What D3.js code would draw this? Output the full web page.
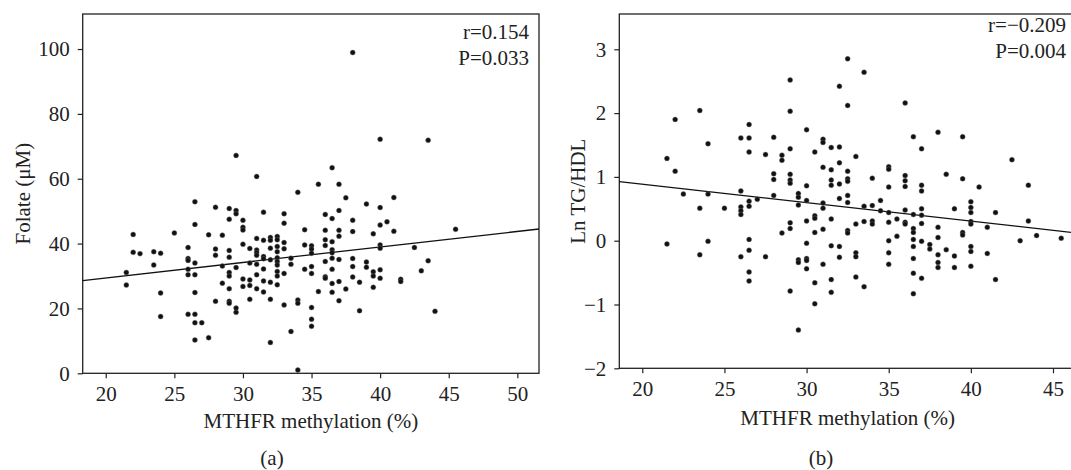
<!DOCTYPE html>
<html>
<head>
<meta charset="utf-8">
<script src="https://cdnjs.cloudflare.com/ajax/libs/d3/7.8.5/d3.min.js"></script>
<style>
    body { margin: 0; background: #fff; }
    svg text { font-family: "Liberation Serif", "DejaVu Serif", serif; fill: #222; }
</style>
</head>
<body>
<svg id="chart" width="1071" height="470"></svg>
<script>
// ---- panel (a): folate vs MTHFR methylation, grouped by methylation level ----
var methylA = [21.5, 22, 22.5, 23.5, 24, 25, 26, 26.5, 27, 27.5, 28, 28.5, 29, 29.5, 30, 30.5,
    31, 31.5, 32, 32.5, 33, 33.5, 34, 34.5, 35, 35.5, 36, 36.5, 37, 37.5, 38, 38.5, 39, 39.5,
    40, 40.5, 41, 41.5, 42.5, 43, 43.5, 44, 45.5];
var folateA = [
    [31.1, 27.2], [42.8, 37.3], [36.9], [37.5, 33.4], [37.0, 24.8, 17.5], [43.3],
    [38.8, 35.4, 34.8, 32.1, 30.4, 18.2],
    [52.9, 45.9, 34.0, 30.4, 24.9, 18.2, 15.6, 10.3],
    [15.6], [42.7, 11.0], [51.2, 38.3, 36.4, 22.2], [42.6, 33.1, 27.8],
    [50.8, 47.5, 37.9, 35.8, 31.1, 30.0, 26.1, 22.2, 21.6],
    [67.2, 50.2, 49.2, 32.6, 20.1, 18.8],
    [47.2, 45.0, 44.2, 39.8, 29.1, 26.8],
    [38.5, 34.0, 28.8, 27.1, 22.8],
    [60.7, 41.6, 38.0, 37.2, 36.4, 33.6, 30.4, 26.1],
    [49.7, 41.0, 36.0, 35.3, 32.2, 28.5, 25.1],
    [41.9, 41.0, 38.6, 35.0, 28.1, 22.8, 9.5],
    [42.2, 41.2, 39.1, 37.5, 35.6, 34.5, 33.4, 31.4, 30.0, 27.3],
    [49.2, 46.3, 40.3, 38.4, 30.8, 21.1],
    [35.5, 33.6, 12.9], [55.8, 22.6, 21.6, 1.0], [44.3, 39.6, 32.1],
    [39.3, 38.3, 37.0, 32.9, 30.8, 20.3, 16.7, 14.5],
    [58.3, 25.2],
    [49.0, 44.1, 41.2, 39.4, 34.5, 29.8, 29.3],
    [63.4, 47.7, 40.6, 38.1, 37.2, 35.5, 32.1, 27.7, 25.0],
    [58.3, 50.2, 44.1, 42.3, 35.1, 28.3, 22.4],
    [54.1, 26.0], [98.9, 47.2, 43.7, 35.4, 32.9, 29.7], [28.1, 19.3], [52.2, 34.3, 32.7],
    [43.0, 31.3, 30.0, 26.5],
    [72.2, 51.1, 45.7, 39.6, 38.6, 31.9, 29.3],
    [46.7], [54.2, 43.8], [29.0, 28.3], [38.8], [31.6], [71.9, 34.7], [19.1], [44.4]
];
var fitA = [19.84, 0.478];          // intercept, slope
var statsA = ["r=0.154", "P=0.033"];
var xTicksA = [20, 25, 30, 35, 40, 45, 50];
var yTicksA = [0, 20, 40, 60, 80, 100];

// ---- panel (b): Ln TG/HDL vs MTHFR methylation ----
var methylB = [21.5, 22, 22.5, 23.5, 24, 25, 26, 26.5, 27, 27.5, 28, 28.5, 29, 29.5, 30, 30.5,
    31, 31.5, 32, 32.5, 33, 33.5, 34, 34.5, 35, 35.5, 36, 36.5, 37, 37.5, 38, 38.5, 39, 39.5,
    40, 40.5, 41, 41.5, 42.5, 43, 43.5, 44, 45.5];
var lnTgHdlB = [
    [1.29, -0.05], [1.90, 1.09], [0.73], [2.04, 0.51, -0.22], [1.52, 0.73, -0.01], [0.51],
    [1.61, 0.78, 0.53, 0.47, 0.41, -0.25],
    [1.82, 1.61, 1.39, 0.62, 0.54, 0.02, -0.15, -0.49, -0.63],
    [0.65], [1.35, -0.25], [1.62, 1.05, 0.96, 0.71], [1.34, 1.26, 0.12],
    [2.52, 2.03, 1.44, 1.04, 0.95, 0.90, 0.28, 0.19, -0.79],
    [0.74, 0.68, 0.56, -0.30, -0.34, -1.40],
    [1.74, 0.86, 0.63, 0.31, -0.04, -0.28, -0.31, -0.44],
    [1.39, 0.39, 0.35, 0.13, -0.66, -0.99],
    [1.59, 1.54, 1.15, 0.59, 0.51, 0.18, -0.37],
    [1.46, 1.11, 0.95, 0.87, 0.34, -0.08, -0.61, -0.81],
    [2.42, 1.47, 1.22, 0.89, 0.66, -0.09, -0.26],
    [2.85, 2.12, 1.09, 0.97, 0.93, 0.71, 0.60, 0.16, 0.12],
    [1.32, 0.26, -0.19, -0.25, -0.57],
    [2.64, 0.54, 0.30, -0.72], [0.98, 0.55, 0.31, 0.26], [0.63, 0.47],
    [1.16, 1.12, 0.84, 0.44, 0.29, 0.00, -0.19, -0.37],
    [0.34, 0.07],
    [2.16, 1.02, 0.94, 0.85, 0.48, 0.29, 0.26],
    [1.63, 0.41, 0.19, 0.13, 0.02, -0.09, -0.28, -0.51, -0.83],
    [1.44, 0.87, 0.78, 0.50, 0.40, 0.27, -0.01, -0.59],
    [-0.06, -0.13], [1.70, 0.21, 0.05, -0.22, -0.34, -0.42], [1.04, -0.14], [0.50, -0.24, -0.42],
    [1.63, 0.97, 0.13, 0.09],
    [0.61, 0.52, 0.44, 0.30, 0.26, -0.09, -0.17, -0.40],
    [0.84], [0.21, -0.20], [0.44, -0.61], [1.27], [0.00], [0.87, 0.31], [0.08], [0.04]
];
var fitB = [1.463, -0.0289];
var statsB = ["r=\u22120.209", "P=0.004"];
var xTicksB = [20, 25, 30, 35, 40, 45];
var yTicksB = [-2, -1, 0, 1, 2, 3];

var fontSize = 21;
var svg = d3.select("#chart");

function flatten(xs, groups) {
    var pts = [];
    xs.forEach(function (x, i) {
        groups[i].forEach(function (y) { pts.push([x, y]); });
    });
    return pts;
}

function drawPanel(p) {
    var x = d3.scaleLinear().domain(p.xDomain).range([p.left, p.right]);
    var y = d3.scaleLinear().domain(p.yDomain).range([p.bottom, p.top]);
    var g = svg.append("g");

    // frame
    g.append("rect")
        .attr("x", p.left).attr("y", p.top)
        .attr("width", p.right - p.left).attr("height", p.bottom - p.top)
        .attr("fill", "none").attr("stroke", "#222").attr("stroke-width", 1.3);

    var xAxis = g.append("g")
        .attr("transform", "translate(0," + p.bottom + ")")
        .call(d3.axisBottom(x).tickValues(p.xTicks).tickFormat(d3.format("d"))
            .tickSize(5).tickPadding(8));
    var yAxis = g.append("g")
        .attr("transform", "translate(" + p.left + ",0)")
        .call(d3.axisLeft(y).tickValues(p.yTicks).tickFormat(d3.format("d"))
            .tickSize(5).tickPadding(8));
    [xAxis, yAxis].forEach(function (a) {
        a.select(".domain").remove();
        a.selectAll("line").attr("stroke", "#222").attr("stroke-width", 1.2);
        a.selectAll("text").attr("font-size", fontSize).attr("fill", "#222")
            .style("font-family", '"Liberation Serif", serif');
    });

    // fit line across the full x range
    var d0 = p.xDomain[0], d1 = p.xDomain[1];
    g.append("line")
        .attr("x1", x(d0)).attr("y1", y(p.fit[0] + p.fit[1] * d0))
        .attr("x2", x(d1)).attr("y2", y(p.fit[0] + p.fit[1] * d1))
        .attr("stroke", "#111").attr("stroke-width", 1.3);

    g.selectAll(".dot")
        .data(flatten(p.xs, p.ys))
        .enter().append("circle")
        .attr("class", "dot")
        .attr("cx", function (d) { return x(d[0]); })
        .attr("cy", function (d) { return y(d[1]); })
        .attr("r", 2.5)
        .attr("fill", "#111")
        .attr("stroke", "#777")
        .attr("stroke-width", 0.4);

    g.selectAll(".stat")
        .data(p.stats)
        .enter().append("text")
        .attr("class", "stat")
        .attr("x", p.statX)
        .attr("y", function (d, i) { return p.statY + i * 26; })
        .attr("text-anchor", "end")
        .attr("font-size", fontSize)
        .text(function (d) { return d; });

    g.append("text")
        .attr("x", (p.left + p.right) / 2).attr("y", p.xTitleY)
        .attr("text-anchor", "middle").attr("font-size", fontSize)
        .text("MTHFR methylation (%)");

    g.append("text")
        .attr("transform", "translate(" + p.yTitleX + "," + (p.top + p.bottom) / 2 + ") rotate(-90)")
        .attr("text-anchor", "middle").attr("font-size", fontSize)
        .text(p.yTitle);

    g.append("text")
        .attr("x", p.labelX).attr("y", 465)
        .attr("text-anchor", "middle").attr("font-size", fontSize)
        .text(p.label);
}

drawPanel({
    xs: methylA, ys: folateA, fit: fitA, stats: statsA,
    xTicks: xTicksA, yTicks: yTicksA,
    xDomain: [18.32, 51.58], yDomain: [0, 110.8],
    left: 82.7, right: 539, top: 14, bottom: 373.3,
    statX: 529, statY: 38.5, xTitleY: 428, yTitleX: 30,
    yTitle: "Folate (\u03bcM)", label: "(a)", labelX: 272
});

drawPanel({
    xs: methylB, ys: lnTgHdlB, fit: fitB, stats: statsB,
    xTicks: xTicksB, yTicks: yTicksB,
    xDomain: [18.6, 46.4], yDomain: [-2, 3.553],
    left: 619.3, right: 1076, top: 14, bottom: 368.3,
    statX: 1066, statY: 32, xTitleY: 425, yTitleX: 585,
    yTitle: "Ln TG/HDL", label: "(b)", labelX: 821
});
</script>
</body>
</html>
